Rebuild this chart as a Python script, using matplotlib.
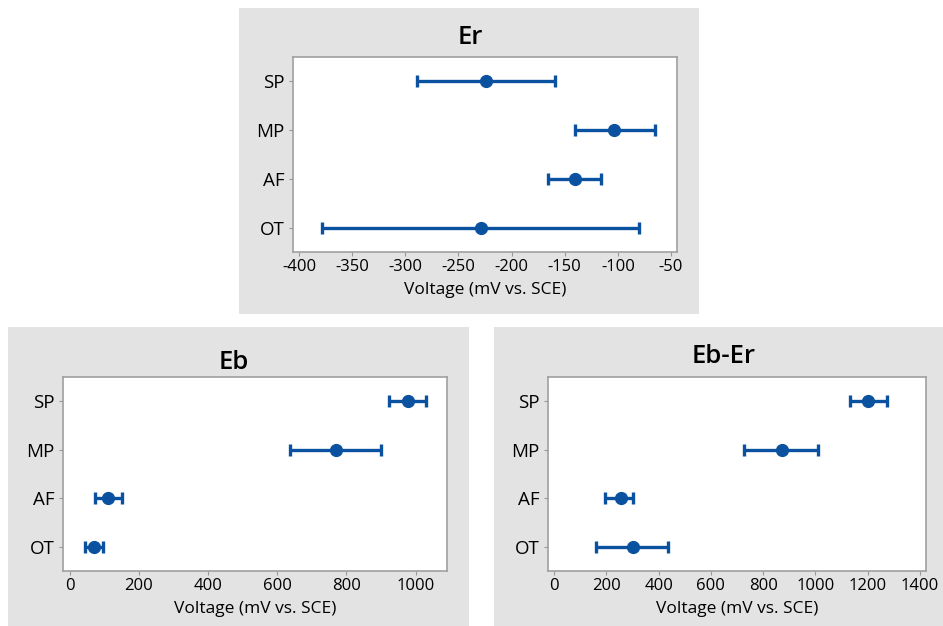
import matplotlib
matplotlib.use('Agg')
import matplotlib.pyplot as plt
from matplotlib.patches import Rectangle

plt.rcParams['font.family'] = ['Open Sans', 'DejaVu Sans']
plt.rcParams['axes.unicode_minus'] = False
plt.rcParams['text.color'] = 'k'

groups = ['OT', 'AF', 'MP', 'SP']

# Er panel (mean, low, high)
er_mean = [-228.6, -140.7, -103.4, -223.6]
er_low = [-378.0, -166.2, -140.4, -288.6]
er_high = [-80.5, -116.3, -65.1, -159.3]

# Eb panel
eb_mean = [69, 112, 770, 977]
eb_low = [43, 72, 637, 922]
eb_high = [95, 150, 901, 1031]

# Eb-Er panel
diff_mean = [301, 255, 873, 1202]
diff_low = [159, 196, 728, 1131]
diff_high = [437, 302, 1011, 1274]

BLUE = '#0a52a0'
GRAY = '#e3e3e3'
W, H = 943, 626

fig = plt.figure(figsize=(W / 100, H / 100), dpi=100)
fig.patch.set_facecolor('white')


def px_rect(x0, y0, x1, y1):
    # pixel box (from top-left) -> figure fraction
    return [x0 / W, 1 - y1 / H, (x1 - x0) / W, (y1 - y0) / H]


def panel(bg, box, title, title_xy, mean, low, high, xlim, xticks):
    b = px_rect(*bg)
    fig.patches.append(Rectangle((b[0], b[1]), b[2], b[3], transform=fig.transFigure,
                                 facecolor=GRAY, edgecolor='none', zorder=-1))
    ax = fig.add_axes(px_rect(*box))
    ypos = range(1, len(groups) + 1)
    err = [[m - l for m, l in zip(mean, low)], [h - m for m, h in zip(mean, high)]]
    ax.errorbar(mean, ypos, xerr=err, fmt='o', color=BLUE, ms=8.5, lw=2.4,
                capsize=4.5, capthick=2.4, zorder=3)
    ax.set_ylim(0.5, 4.5)
    ax.set_yticks(list(ypos))
    ax.set_yticklabels(groups, fontsize=13.5, fontweight='medium', color='k')
    ax.set_xlim(*xlim)
    ax.set_xticks(xticks)
    ax.set_xticklabels([str(t) for t in xticks], fontsize=12, fontweight='medium', color='k')
    ax.tick_params(axis='x', length=3, color='#999999', pad=2)
    ax.tick_params(axis='y', length=3, color='#999999', pad=3)
    for s in ax.spines.values():
        s.set_color('#a0a0a0')
        s.set_linewidth(1.2)
    ax.set_xlabel('Voltage (mV vs. SCE)', fontsize=12.5, fontweight='medium', labelpad=5)
    # title sits centred on the grey panel, not on the axes
    fig.text(title_xy[0] / W, 1 - title_xy[1] / H, title, fontsize=18.5,
             fontweight='semibold', ha='center', va='baseline')
    return ax


panel((239, 8, 699, 314), (293, 57, 677, 252), 'Er', (470, 44), er_mean, er_low, er_high,
      (-405.6, -44.4), [-400, -350, -300, -250, -200, -150, -100, -50])
panel((8, 327, 469, 626), (63, 377, 447, 571), 'Eb', (234, 369), eb_mean, eb_low, eb_high,
      (-19.3, 1090.6), [0, 200, 400, 600, 800, 1000])
panel((494, 327, 943, 626), (548, 377, 926, 571), 'Eb-Er', (724, 363), diff_mean, diff_low,
      diff_high, (-23, 1423), [0, 200, 400, 600, 800, 1000, 1200, 1400])

fig.savefig('out.png', dpi=100)
